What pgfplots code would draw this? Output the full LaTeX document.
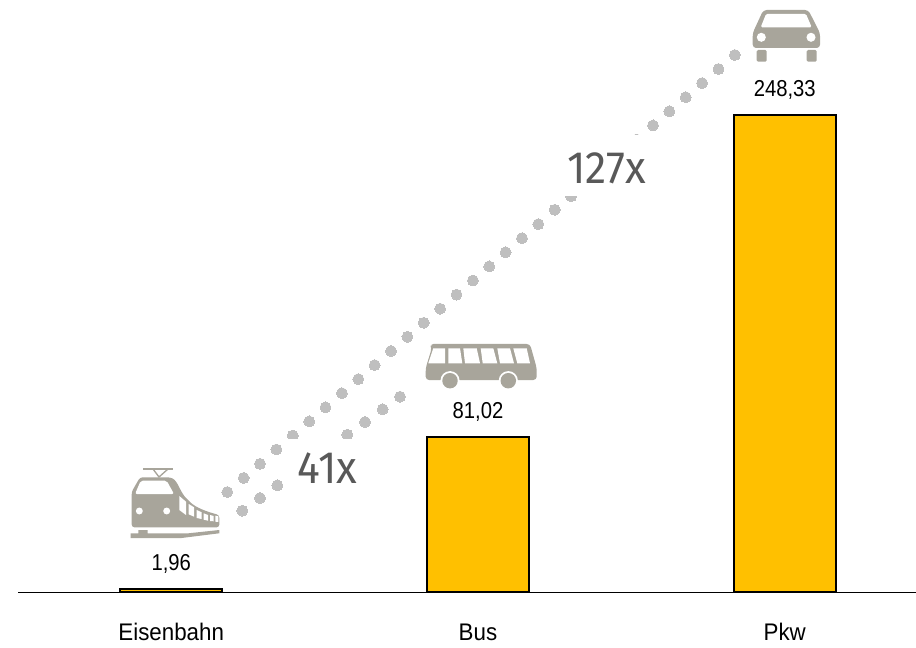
\documentclass[border=0pt]{standalone}
\usepackage{fontspec}
\usepackage{pgfplots}
\pgfplotsset{compat=1.18}
\setmainfont{Liberation Sans}
\newfontfamily\catfont[FakeStretch=0.93]{Liberation Sans}
\newfontfamily\valfont[FakeStretch=0.88]{Liberation Sans}
\newfontfamily\bigfont[FakeStretch=0.94]{Fira Sans}
\definecolor{barfill}{HTML}{FFC000}
\definecolor{dotgrey}{HTML}{BFBFBF}
\definecolor{icon}{HTML}{A8A59B}
\definecolor{bigtext}{HTML}{595959}

% 1 px of the reference = 0.75pt
\pgfplotstableread{
x y
227.3 492.0
243.7 477.9
260.0 463.8
276.4 449.5
292.8 435.5
309.2 421.4
325.5 407.4
341.9 393.2
358.3 379.1
374.6 365.1
391.0 351.0
407.4 336.8
423.7 322.8
440.1 308.7
456.5 294.6
472.9 280.5
489.2 266.4
505.6 252.3
522.0 238.2
538.3 224.1
554.7 209.8
571.1 196.2
587.4 181.8
603.8 167.7
620.2 153.6
636.6 139.5
653.0 125.4
669.3 111.3
685.7 97.2
702.1 83.1
718.5 69.0
734.8 55.0
}\upperdots
\pgfplotstableread{
x y
242.3 510.7
260.0 498.0
277.3 485.3
294.8 472.6
312.3 459.9
329.8 447.2
347.3 434.7
365.0 422.0
382.7 409.3
400.0 396.7
}\lowerdots

\pgfplotsset{overlay/.style={
    at={(0,0)},
    anchor=south west,
    scale only axis,
    width=687pt,
    height=486pt,
    xmin=0, xmax=916,
    ymin=0, ymax=648,
    y dir=reverse,
    hide axis,
    clip=false,
}}

\begin{document}
\begin{tikzpicture}
\useasboundingbox (0,0) rectangle (687pt,486pt);

\begin{axis}[
    at={(13.5pt,41.625pt)},
    anchor=south west,
    scale only axis,
    width=673.5pt,
    height=444.375pt,
    ybar,
    bar width=76.3pt,
    xmin=-0.4994, xmax=2.428,
    ymin=0, ymax=308.3,
    clip=false,
    axis y line=none,
    axis x line*=bottom,
    axis line style={black,line width=1.1pt},
    xtick={0,1,2},
    xticklabels={Eisenbahn,Bus,Pkw},
    major tick length=0pt,
    xtick style={draw=none},
    x tick label style={anchor=base,yshift=-36.2pt,font=\catfont\fontsize{18}{20}\selectfont},
    nodes near coords,
    nodes near coords style={anchor=base,yshift=13.7pt,text=black,font=\valfont\fontsize{17.25}{20}\selectfont,
        /pgf/number format/.cd,fixed,fixed zerofill,precision=2,use comma,assume math mode=true},
]
\addplot[draw=black,line width=1.5pt,fill=barfill] coordinates {(0,1.96) (1,81.02) (2,248.33)};
\end{axis}

% the two dotted links, in their own axis so the white boxes go over them
\begin{axis}[overlay]
\addplot[only marks,mark=*,mark size=4.1pt,mark options={draw=dotgrey,fill=dotgrey,line width=0pt}] table[x=x,y=y] {\upperdots};
\addplot[only marks,mark=*,mark size=4.1pt,mark options={draw=dotgrey,fill=dotgrey,line width=0pt}] table[x=x,y=y] {\lowerdots};
\end{axis}

\begin{axis}[overlay]
% white boxes behind the factors
\fill[white] (axis cs:285,439.2) rectangle (axis cs:370,495);
\fill[white] (axis cs:560,134.7) rectangle (axis cs:648,195.7);
\node[anchor=base,text=bigtext,inner sep=0pt,font=\bigfont\fontsize{34}{36}\selectfont] at (axis cs:327.5,483.8) {41x};
\node[anchor=base,text=bigtext,inner sep=0pt,font=\bigfont\fontsize{34}{36}\selectfont] at (axis cs:606.5,183.7) {127x};

% train
\fill[icon] (axis cs:143.3,467.5) rectangle (axis cs:172.7,469.5);
\draw[icon,line width=1pt] (axis cs:153,469) -- (axis cs:159,477) -- (axis cs:168,469);
\fill[icon,rounded corners=2pt] (axis cs:140,477.3) -- (axis cs:170,477.3) .. controls (axis cs:178,481) and (axis cs:180,492) .. (axis cs:188,500) .. controls (axis cs:196,508) and (axis cs:208,512) .. (axis cs:219.3,515) -- (axis cs:219.3,527.3) -- (axis cs:131.7,527.3) -- (axis cs:131.7,491.7) -- cycle;
\fill[white,rounded corners=1.5pt] (axis cs:140.7,480.7) -- (axis cs:166.7,480.7) -- (axis cs:174,494) -- (axis cs:135,494) -- cycle;
\fill[white] (axis cs:139.3,511) circle[radius=2.6pt];
\fill[white] (axis cs:166.7,511) circle[radius=2.6pt];
\fill[white] (axis cs:179.3,496) -- (axis cs:186,501.7) -- (axis cs:186,515) -- (axis cs:179.3,510) -- cycle;
\fill[white] (axis cs:188.7,504) -- (axis cs:194,507.3) -- (axis cs:194,516.7) -- (axis cs:188.7,514.3) -- cycle;
\fill[white] (axis cs:196.7,510) -- (axis cs:201.7,512.3) -- (axis cs:201.7,519) -- (axis cs:196.7,518) -- cycle;
\fill[white] (axis cs:203.7,513.3) -- (axis cs:208,515) -- (axis cs:208,520.7) -- (axis cs:203.7,519.7) -- cycle;
\fill[white] (axis cs:210,515) -- (axis cs:213.7,516) -- (axis cs:213.7,521.3) -- (axis cs:210,521) -- cycle;
\fill[white] (axis cs:215.3,515.7) -- (axis cs:218.3,516.3) -- (axis cs:218.3,522) -- (axis cs:215.3,521.7) -- cycle;
\fill[icon] (axis cs:130.7,533.3) -- (axis cs:138.3,533.3) -- (axis cs:138.3,530) -- (axis cs:147.7,530) -- (axis cs:147.7,533.3) -- (axis cs:188.3,533.3) -- (axis cs:219.3,530) -- (axis cs:219.3,533.3) -- (axis cs:181.7,538) -- (axis cs:130.7,538) -- cycle;

% bus
\fill[icon,rounded corners=2.5pt] (axis cs:430,344) -- (axis cs:530,344) -- (axis cs:536.7,368) -- (axis cs:536.7,380) -- (axis cs:425.7,380) -- (axis cs:425.7,368) -- (axis cs:431.7,348.5) -- cycle;
\fill[white] (axis cs:433.3,348.3) -- (axis cs:445,348.3) -- (axis cs:445,363.3) -- (axis cs:428.3,363.3) -- cycle;
\fill[white] (axis cs:448.3,348.3) -- (axis cs:460,348.3) -- (axis cs:462.3,363.3) -- (axis cs:448.3,363.3) -- cycle;
\fill[white] (axis cs:463.3,348.3) -- (axis cs:476.7,348.3) -- (axis cs:480,363.3) -- (axis cs:465,363.3) -- cycle;
\fill[white] (axis cs:480.7,348.3) -- (axis cs:493.3,348.3) -- (axis cs:497.3,363.3) -- (axis cs:482.7,363.3) -- cycle;
\fill[white] (axis cs:497.3,348.3) -- (axis cs:510,348.3) -- (axis cs:514,363.3) -- (axis cs:500,363.3) -- cycle;
\fill[white] (axis cs:513.3,348.3) -- (axis cs:526.7,348.3) -- (axis cs:530,363.3) -- (axis cs:517.3,363.3) -- cycle;
\fill[white] (axis cs:450,380.7) circle[radius=7.2pt];
\fill[icon] (axis cs:450,380.7) circle[radius=5.8pt];
\fill[white] (axis cs:508.3,380.7) circle[radius=7.2pt];
\fill[icon] (axis cs:508.3,380.7) circle[radius=5.8pt];

% car
\fill[icon,rounded corners=2.5pt] (axis cs:763.3,10) -- (axis cs:808.3,10) -- (axis cs:820,33) -- (axis cs:820,48) -- (axis cs:752.7,48) -- (axis cs:752.7,33) -- cycle;
\fill[white,rounded corners=1pt] (axis cs:766,14) -- (axis cs:806,14) -- (axis cs:811.7,27.3) -- (axis cs:760.7,27.3) -- cycle;
\fill[white] (axis cs:761.3,37.3) circle[radius=3.4pt];
\fill[white] (axis cs:811,37.3) circle[radius=3.4pt];
\fill[icon,rounded corners=1pt] (axis cs:756.7,50) rectangle (axis cs:766.7,61.7);
\fill[icon,rounded corners=1pt] (axis cs:806.7,50) rectangle (axis cs:816.7,61.7);
\end{axis}
\end{tikzpicture}
\end{document}
